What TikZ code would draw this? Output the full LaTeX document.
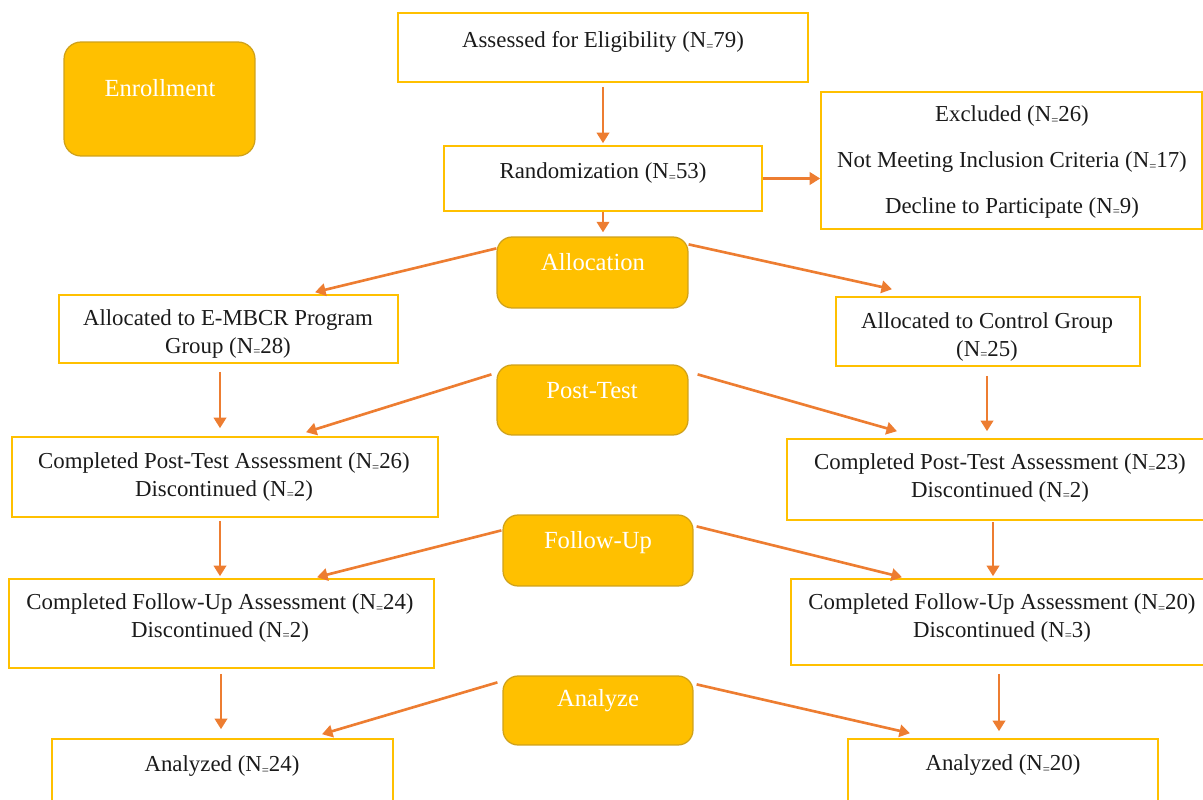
\documentclass[tikz,border=0pt]{standalone}
\usepackage{fontspec}
\setmainfont{Liberation Serif}
\usetikzlibrary{arrows.meta, positioning, calc}
\definecolor{boxline}{HTML}{FFC000}
\definecolor{stagefill}{HTML}{FFC000}
\definecolor{stageline}{HTML}{CFA11A}
\definecolor{arrowc}{HTML}{ED7D31}
\definecolor{textc}{HTML}{1A1A1A}
\newcommand{\Neq}{N\raisebox{-0.25ex}{\scalebox{0.55}{=}}}
\tikzset{
	box/.style={draw=boxline, line width=0.9pt, inner sep=0pt},
	stage/.style={draw=stageline, fill=stagefill, line width=0.7pt, rounded corners=0.3cm, inner sep=0pt},
	txt/.style={font=\fontsize{13}{15.6}\selectfont, text=textc, align=center, inner sep=0pt, yshift=-0.06cm},
	stagetxt/.style={font=\fontsize{14}{16.8}\selectfont, text=white, inner sep=0pt, text height=0.68em, text depth=0.2em, yshift=-0.07cm},
	arr/.style={draw=arrowc, line width=1.5pt, -{Triangle[width=7pt,length=6pt]}}
}
\begin{document}
\begin{tikzpicture}[x=0.02cm, y=-0.02cm]
		\useasboundingbox (0,0) rectangle (1203,800);
		\node[stage, minimum width=3.82cm, minimum height=2.28cm, rounded corners=0.34cm] (enroll) at (159.5,99) {};
		\node[stage, minimum width=3.82cm, minimum height=1.42cm] (alloc) at (592.5,272.5) {};
		\node[stage, minimum width=3.82cm, minimum height=1.4cm] (post) at (592.5,400) {};
		\node[stage, minimum width=3.8cm, minimum height=1.42cm] (follow) at (598,550.5) {};
		\node[stage, minimum width=3.8cm, minimum height=1.38cm] (analyze) at (598,710.5) {};
		\node[box, minimum width=8.2cm, minimum height=1.38cm] (assess) at (603,47.5) {};
		\node[box, minimum width=6.36cm, minimum height=1.3cm] (rand) at (603,178.5) {};
		\node[box, minimum width=7.62cm, minimum height=2.74cm] (excl) at (1011.5,160.5) {};
		\node[box, minimum width=6.78cm, minimum height=1.36cm] (emb) at (228.5,329) {};
		\node[box, minimum width=6.08cm, minimum height=1.38cm] (ctrl) at (988,331.5) {};
		\node[box, minimum width=8.52cm, minimum height=1.6cm] (postl) at (225,477) {};
		\node[box, minimum width=8.46cm, minimum height=1.62cm] (postr) at (998.5,479.5) {};
		\node[box, minimum width=8.5cm, minimum height=1.78cm] (ful) at (221.5,623.5) {};
		\node[box, minimum width=8.38cm, minimum height=1.72cm] (fur) at (1000.5,622) {};
		\node[box, minimum width=6.82cm, minimum height=1.42cm] (anl) at (222.5,774.5) {};
		\node[box, minimum width=6.2cm, minimum height=1.42cm] (anr) at (1003,774.5) {};

		\node[stagetxt] (enroll-t) at (160,89) {Enrollment};
		\node[stagetxt] (alloc-t) at (593,263) {Allocation};
		\node[stagetxt] (post-t) at (592,391) {Post-Test};
		\node[stagetxt] (follow-t) at (598,541) {Follow-Up};
		\node[stagetxt] (analyze-t) at (598,699) {Analyze};
		\node[txt] (assess-t) at (603,39) {Assessed for Eligibility (\Neq79)};
		\node[txt] (rand-t) at (603,170) {Randomization (\Neq53)};
		\node[txt] (excl-t) at (1012,159) {Excluded (\Neq26)\\[10.4pt] Not Meeting Inclusion Criteria (\Neq17)\\[10.4pt] Decline to Participate (\Neq9)};
		\node[txt] (emb-t) at (228,331) {Allocated to E-MBCR Program\\ Group (\Neq28)};
		\node[txt] (ctrl-t) at (987,334) {Allocated to Control Group\\ (\Neq25)};
		\node[txt] (postl-t) at (224,474) {Completed Post-Test Assessment (\Neq26)\\ Discontinued (\Neq2)};
		\node[txt] (postr-t) at (1000,475) {Completed Post-Test Assessment (\Neq23)\\ Discontinued (\Neq2)};
		\node[txt] (ful-t) at (220,615) {Completed Follow-Up Assessment (\Neq24)\\ Discontinued (\Neq2)};
		\node[txt] (fur-t) at (1002,615) {Completed Follow-Up Assessment (\Neq20)\\ Discontinued (\Neq3)};
		\node[txt] (anl-t) at (222,763) {Analyzed (\Neq24)};
		\node[txt] (anr-t) at (1003,762) {Analyzed (\Neq20)};

		\draw[arr] ([shift={(0,4)}]assess.south) -- ([shift={(0,-2)}]rand.north);
		\draw[arr] (rand.east) -- (rand.east -| excl.west);
		\draw[arr] (rand.south) -- ($(rand.south |- alloc.north)+(0,-4)$);
		\draw[arr] ([shift={(0,12)}]alloc.north west) -- ([shift={(86.5,-2)}]emb.north);
		\draw[arr] ([shift={(0,8)}]alloc.north east) -- ([shift={(-96,-7)}]ctrl.north);
		\draw[arr] ([shift={(-8.5,8)}]emb.south) -- ([shift={(-5,-8)}]postl.north);
		\draw[arr] ([shift={(-1,9)}]ctrl.south) -- ([shift={(-11.5,-7)}]postr.north);
		\draw[arr] ([shift={(-5,10)}]post.north west) -- ([shift={(81,-4)}]postl.north);
		\draw[arr] ([shift={(9,10)}]post.north east) -- ([shift={(-101.5,-7)}]postr.north);
		\draw[arr] ([shift={(-5,3)}]postl.south) -- ([shift={(-1.5,-2)}]ful.north);
		\draw[arr] ([shift={(-5.5,1)}]postr.south) -- ([shift={(-7.5,-2)}]fur.north);
		\draw[arr] ([shift={(-1,16)}]follow.north west) -- ([shift={(95.5,-1)}]ful.north);
		\draw[arr] ([shift={(3,12)}]follow.north east) -- ([shift={(-98.5,-1)}]fur.north);
		\draw[arr] ([shift={(-0.5,5)}]ful.south) -- ([shift={(-1.5,-9)}]anl.north);
		\draw[arr] ([shift={(-1.5,8)}]fur.south) -- ([shift={(-4,-7)}]anr.north);
		\draw[arr] ([shift={(-5,7)}]analyze.north west) -- ([shift={(99.5,-4)}]anl.north);
		\draw[arr] ([shift={(3,9)}]analyze.north east) -- ([shift={(-93,-5)}]anr.north);
	\end{tikzpicture}
\end{document}
